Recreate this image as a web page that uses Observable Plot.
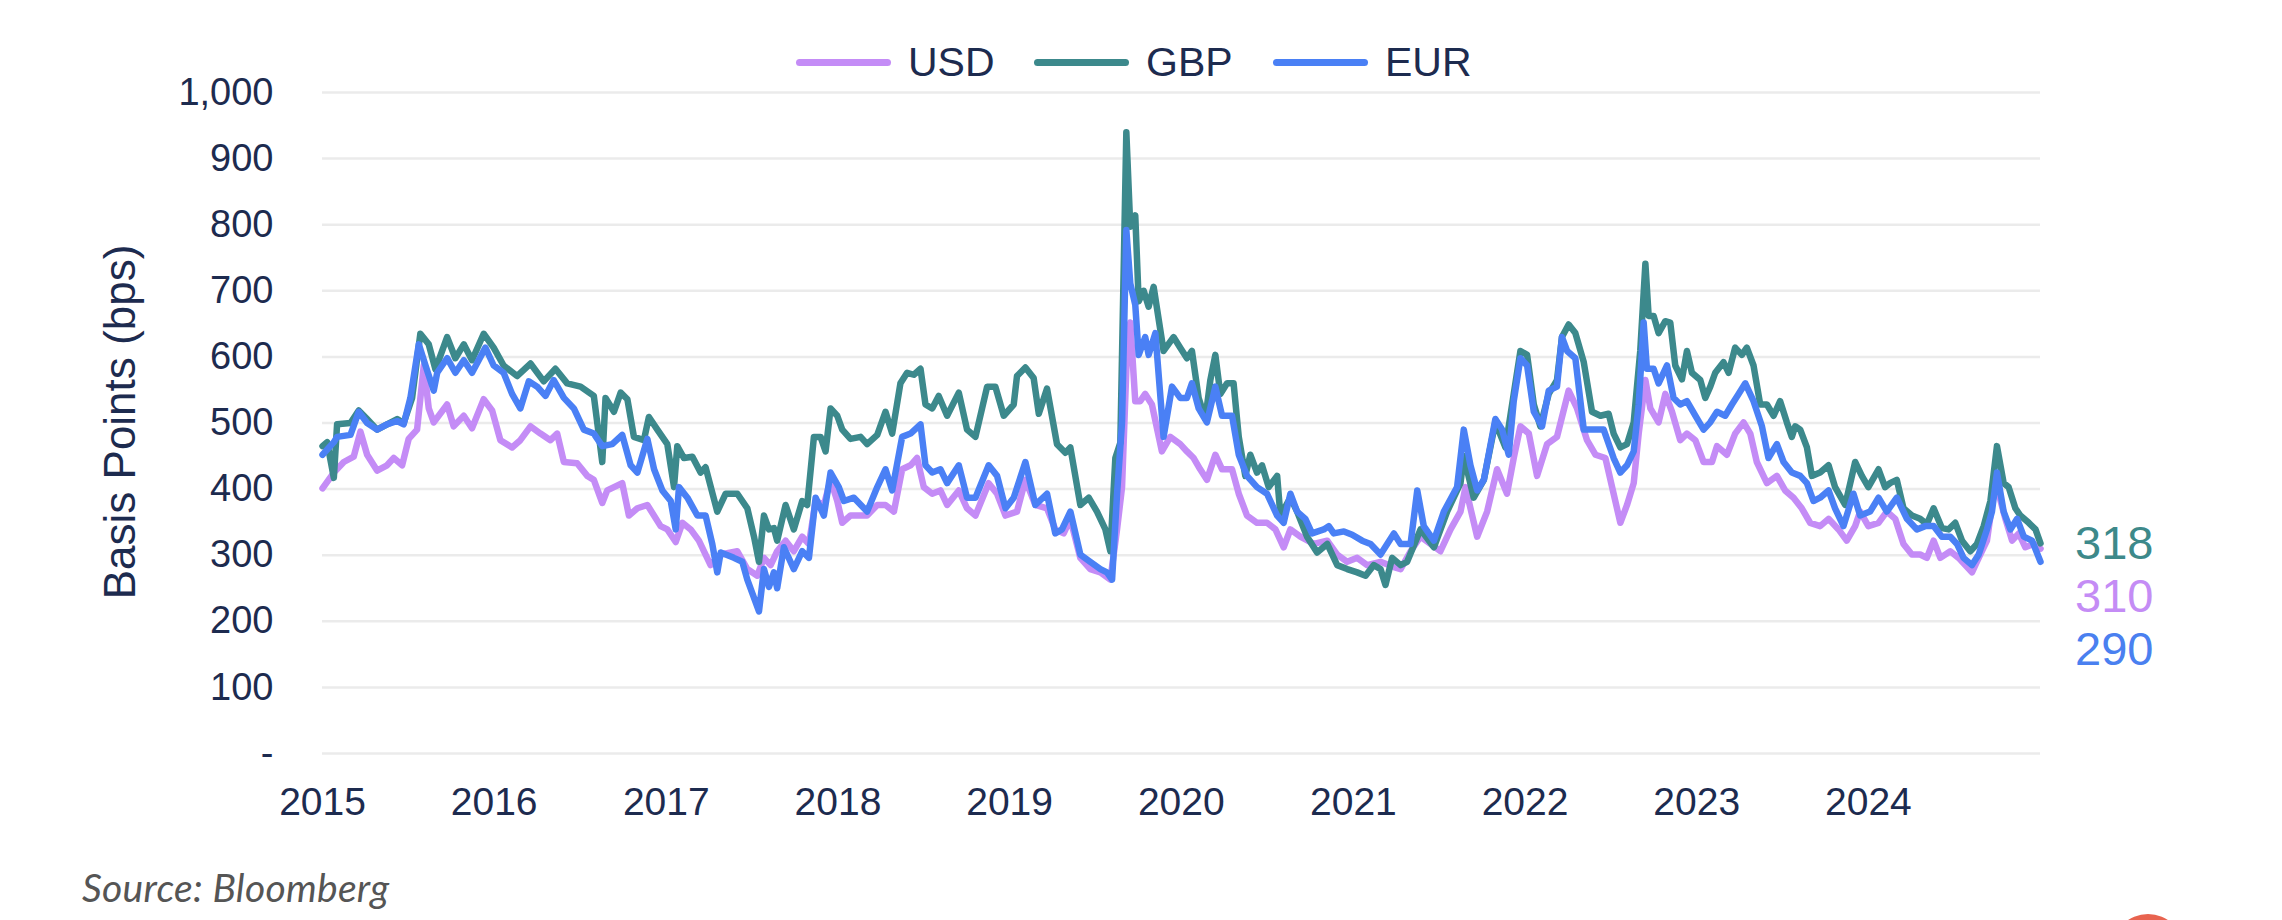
<!DOCTYPE html>
<html>
<head>
<meta charset="utf-8">
<script src="https://cdn.jsdelivr.net/npm/d3@7"></script>
<script src="https://cdn.jsdelivr.net/npm/@observablehq/plot@0.6"></script>
<style>
  body { margin: 0; background: #fff; }
  #wrap { position: relative; width: 2282px; height: 920px; overflow: hidden; background: #fff; font-family: "Liberation Sans", Arial, sans-serif; color: #1d2b4f; }
  #chart { position: absolute; left: 0; top: 0; }
  #overlay { position: absolute; left: 0; top: 0; pointer-events: none; }
  .legend { position: absolute; top: 38px; left: 0; height: 48px; }
  .lg-item { position: absolute; top: 0; height: 48px; display: flex; align-items: center; font-size: 41px; color: #1d2b4f; }
  .lg-sw { width: 95px; height: 7px; border-radius: 4px; margin-right: 17px; }
  #ylab { position: absolute; left: 120px; top: 422px; transform: translate(-50%, -50%) rotate(-90deg); font-size: 44px; white-space: nowrap; color: #1d2b4f; }
  #source { position: absolute; left: 82px; top: 864px; font-family: Lato, "Open Sans", sans-serif; font-style: italic; font-size: 39px; letter-spacing: 0.3px; color: #555; }
  #logo { position: absolute; left: 2112px; top: 914px; width: 72px; height: 72px; border-radius: 50%; background: #e8634f; }
</style>
</head>
<body>
<div id="wrap">
  <div id="chart"></div>
  <div class="legend" id="legend"></div>
  <div id="ylab">Basis Points (bps)</div>
  <div id="source">Source: Bloomberg</div>
  <div id="logo"></div>
</div>
<script>
// ---------- DATA (decimal year, basis points) ----------
const seriesNames = ["USD", "GBP", "EUR"];
const seriesColors = ["#c48cf6", "#3c898c", "#4a80f5"];
const endValues = [["GBP", 318], ["USD", 310], ["EUR", 290]];
const yTicks = [0, 100, 200, 300, 400, 500, 600, 700, 800, 900, 1000];
const xTickYears = [2015, 2016, 2017, 2018, 2019, 2020, 2021, 2022, 2023, 2024];

const USD = [
[2015.0,401],[2015.066,425],[2015.124,441],[2015.182,449],[2015.221,487],[2015.26,452],[2015.318,428],[2015.376,436],[2015.415,447],[2015.464,436],[2015.502,476],[2015.551,490],[2015.59,587],[2015.619,522],[2015.648,501],[2015.726,528],[2015.764,495],[2015.823,511],[2015.871,492],[2015.939,536],[2015.988,519],
[2016.036,474],[2016.104,463],[2016.152,474],[2016.211,495],[2016.269,484],[2016.327,474],[2016.366,484],[2016.405,441],[2016.482,439],[2016.541,420],[2016.579,414],[2016.628,379],[2016.657,398],[2016.744,409],[2016.783,360],[2016.832,371],[2016.89,376],[2016.967,344],
[2017.006,339],[2017.055,320],[2017.094,349],[2017.142,339],[2017.19,322],[2017.258,285],[2017.317,301],[2017.414,306],[2017.472,279],[2017.53,269],[2017.569,296],[2017.608,285],[2017.646,306],[2017.695,322],[2017.743,306],[2017.792,328],[2017.831,317],[2017.87,382],[2017.918,376],[2017.957,414],[2017.996,382],
[2018.025,349],[2018.073,360],[2018.17,360],[2018.229,376],[2018.277,376],[2018.326,366],[2018.374,430],[2018.423,436],[2018.461,447],[2018.5,403],[2018.549,393],[2018.597,398],[2018.636,376],[2018.704,398],[2018.752,371],[2018.801,360],[2018.878,409],[2018.927,393],[2018.976,360],
[2019.043,366],[2019.092,414],[2019.15,376],[2019.218,371],[2019.266,339],[2019.315,333],[2019.354,355],[2019.412,296],[2019.47,279],[2019.529,274],[2019.587,263],[2019.626,339],[2019.655,403],[2019.684,609],[2019.703,652],[2019.732,533],[2019.761,533],[2019.79,544],[2019.829,528],[2019.887,457],[2019.936,479],[2019.994,468],
[2020.033,457],[2020.072,447],[2020.11,430],[2020.149,414],[2020.198,452],[2020.237,430],[2020.295,430],[2020.334,393],[2020.382,360],[2020.44,349],[2020.498,349],[2020.547,339],[2020.595,312],[2020.634,339],[2020.692,328],[2020.77,317],[2020.848,322],[2020.906,301],[2020.964,290],
[2021.022,296],[2021.08,285],[2021.158,290],[2021.236,282],[2021.275,279],[2021.333,306],[2021.391,328],[2021.449,317],[2021.507,306],[2021.566,339],[2021.624,366],[2021.653,403],[2021.721,328],[2021.779,366],[2021.837,430],[2021.895,393],[2021.934,447],[2021.973,495],
[2022.022,484],[2022.07,420],[2022.128,468],[2022.186,479],[2022.254,549],[2022.303,522],[2022.361,474],[2022.41,452],[2022.468,447],[2022.516,393],[2022.555,349],[2022.594,376],[2022.633,409],[2022.662,484],[2022.701,565],[2022.73,522],[2022.778,501],[2022.817,544],[2022.856,517],[2022.904,474],[2022.943,484],[2022.992,474],
[2023.04,441],[2023.089,441],[2023.118,465],[2023.176,452],[2023.224,484],[2023.273,501],[2023.312,484],[2023.35,441],[2023.409,409],[2023.467,420],[2023.515,398],[2023.564,387],[2023.612,371],[2023.661,349],[2023.719,344],[2023.768,355],[2023.826,339],[2023.874,322],[2023.923,344],[2023.952,366],
[2024.0,344],[2024.059,349],[2024.107,366],[2024.156,355],[2024.204,317],[2024.253,301],[2024.301,301],[2024.34,296],[2024.379,322],[2024.418,296],[2024.476,306],[2024.524,296],[2024.563,285],[2024.602,274],[2024.641,296],[2024.689,322],[2024.728,393],[2024.757,393],[2024.796,355],[2024.835,322],[2024.874,333],[2024.912,312],[2024.961,317],[2025.0,310]
];

const GBP = [
[2015.0,465],[2015.027,471],[2015.066,417],[2015.085,498],[2015.163,500],[2015.211,519],[2015.26,506],[2015.318,490],[2015.376,498],[2015.435,506],[2015.473,500],[2015.522,538],[2015.57,635],[2015.619,619],[2015.658,581],[2015.726,630],[2015.774,598],[2015.823,619],[2015.871,595],[2015.939,635],[2015.997,614],
[2016.055,587],[2016.133,571],[2016.211,590],[2016.288,563],[2016.356,582],[2016.424,560],[2016.502,555],[2016.579,541],[2016.628,441],[2016.647,538],[2016.696,517],[2016.735,546],[2016.774,536],[2016.812,479],[2016.87,474],[2016.899,509],[2016.948,490],
[2017.006,468],[2017.045,403],[2017.064,465],[2017.103,447],[2017.152,449],[2017.2,425],[2017.229,433],[2017.297,366],[2017.346,393],[2017.414,393],[2017.472,371],[2017.511,328],[2017.54,290],[2017.569,360],[2017.598,339],[2017.627,341],[2017.646,322],[2017.695,376],[2017.743,339],[2017.792,382],[2017.821,376],[2017.86,479],[2017.899,479],[2017.928,457],[2017.957,522],[2017.996,511],
[2018.025,490],[2018.073,476],[2018.132,479],[2018.17,468],[2018.229,482],[2018.277,517],[2018.316,484],[2018.364,560],[2018.403,576],[2018.442,573],[2018.481,582],[2018.51,528],[2018.549,522],[2018.587,541],[2018.636,511],[2018.704,546],[2018.752,490],[2018.801,479],[2018.869,555],[2018.917,555],[2018.966,511],
[2019.024,528],[2019.043,571],[2019.092,584],[2019.14,568],[2019.17,514],[2019.218,552],[2019.276,468],[2019.325,455],[2019.354,463],[2019.412,376],[2019.461,387],[2019.509,366],[2019.558,339],[2019.587,306],[2019.616,447],[2019.645,470],[2019.68,940],[2019.703,797],[2019.732,814],[2019.752,684],[2019.781,700],[2019.81,676],[2019.839,706],[2019.897,609],[2019.955,630],[2019.994,614],
[2020.033,598],[2020.062,609],[2020.101,538],[2020.14,506],[2020.169,565],[2020.198,603],[2020.227,544],[2020.266,560],[2020.304,560],[2020.334,479],[2020.372,420],[2020.401,452],[2020.44,425],[2020.469,436],[2020.508,403],[2020.557,420],[2020.576,360],[2020.634,387],[2020.673,366],[2020.731,328],[2020.789,304],[2020.848,317],[2020.906,285],[2020.964,279],
[2021.022,274],[2021.071,269],[2021.119,285],[2021.158,279],[2021.187,255],[2021.226,296],[2021.275,285],[2021.313,290],[2021.391,339],[2021.469,312],[2021.546,366],[2021.624,409],[2021.643,450],[2021.701,387],[2021.76,414],[2021.827,501],[2021.886,463],[2021.934,544],[2021.973,609],
[2022.012,603],[2022.051,528],[2022.089,495],[2022.138,544],[2022.186,565],[2022.215,630],[2022.254,649],[2022.293,636],[2022.342,592],[2022.39,517],[2022.439,511],[2022.487,514],[2022.516,484],[2022.555,463],[2022.594,468],[2022.633,501],[2022.671,609],[2022.701,741],[2022.72,662],[2022.749,662],[2022.778,636],[2022.817,654],[2022.846,652],[2022.875,587],[2022.914,566],[2022.943,609],[2022.972,576],
[2023.021,565],[2023.05,538],[2023.079,555],[2023.108,576],[2023.156,592],[2023.186,576],[2023.224,614],[2023.263,603],[2023.292,614],[2023.331,587],[2023.37,528],[2023.409,528],[2023.448,511],[2023.486,533],[2023.525,501],[2023.554,479],[2023.574,495],[2023.603,490],[2023.642,463],[2023.671,420],[2023.719,425],[2023.768,436],[2023.806,403],[2023.865,376],[2023.923,441],[2023.962,420],
[2024.0,403],[2024.059,430],[2024.097,403],[2024.126,409],[2024.165,414],[2024.204,371],[2024.253,360],[2024.301,355],[2024.34,347],[2024.379,371],[2024.427,341],[2024.466,339],[2024.505,349],[2024.544,322],[2024.592,306],[2024.631,317],[2024.67,344],[2024.709,382],[2024.747,465],[2024.786,409],[2024.815,403],[2024.854,371],[2024.883,360],[2024.932,349],[2024.971,339],[2025.0,318]
];

const EUR = [
[2015.0,452],[2015.066,471],[2015.085,479],[2015.163,482],[2015.211,517],[2015.26,500],[2015.318,490],[2015.376,498],[2015.435,503],[2015.473,498],[2015.512,538],[2015.561,619],[2015.6,587],[2015.648,549],[2015.668,576],[2015.726,598],[2015.774,576],[2015.823,595],[2015.871,576],[2015.949,614],[2015.997,587],
[2016.055,576],[2016.104,544],[2016.152,522],[2016.201,563],[2016.25,555],[2016.298,541],[2016.346,565],[2016.405,538],[2016.463,522],[2016.521,490],[2016.579,484],[2016.628,465],[2016.686,468],[2016.744,482],[2016.793,436],[2016.832,425],[2016.89,476],[2016.929,430],[2016.977,398],
[2017.026,382],[2017.055,339],[2017.074,403],[2017.123,387],[2017.181,360],[2017.229,360],[2017.268,317],[2017.297,274],[2017.317,304],[2017.394,296],[2017.443,290],[2017.472,263],[2017.54,215],[2017.569,279],[2017.598,252],[2017.627,274],[2017.646,250],[2017.685,312],[2017.743,279],[2017.792,306],[2017.831,296],[2017.87,387],[2017.918,360],[2017.957,425],
[2018.005,403],[2018.035,382],[2018.093,387],[2018.17,366],[2018.229,403],[2018.277,430],[2018.316,398],[2018.374,479],[2018.423,484],[2018.481,498],[2018.51,436],[2018.549,425],[2018.597,430],[2018.636,409],[2018.704,436],[2018.752,387],[2018.801,387],[2018.878,436],[2018.927,420],[2018.976,371],
[2019.024,387],[2019.092,441],[2019.15,376],[2019.218,393],[2019.266,333],[2019.305,339],[2019.354,366],[2019.412,301],[2019.47,290],[2019.529,279],[2019.567,274],[2019.597,263],[2019.626,393],[2019.655,501],[2019.68,792],[2019.703,711],[2019.732,679],[2019.752,603],[2019.79,630],[2019.81,603],[2019.849,636],[2019.897,479],[2019.946,555],[2019.994,538],
[2020.033,538],[2020.062,560],[2020.101,522],[2020.149,501],[2020.198,555],[2020.237,511],[2020.295,511],[2020.334,452],[2020.382,420],[2020.44,403],[2020.498,393],[2020.557,360],[2020.595,349],[2020.634,393],[2020.673,366],[2020.721,355],[2020.76,333],[2020.828,339],[2020.857,344],[2020.886,333],[2020.945,336],[2020.993,331],
[2021.051,322],[2021.1,317],[2021.158,301],[2021.197,317],[2021.236,333],[2021.275,317],[2021.333,317],[2021.372,398],[2021.41,344],[2021.469,322],[2021.527,366],[2021.604,403],[2021.643,490],[2021.682,436],[2021.721,398],[2021.76,414],[2021.827,506],[2021.866,490],[2021.905,452],[2021.934,533],[2021.973,598],
[2022.012,587],[2022.051,517],[2022.099,495],[2022.138,549],[2022.186,555],[2022.215,630],[2022.245,609],[2022.293,598],[2022.342,490],[2022.4,490],[2022.458,490],[2022.516,447],[2022.555,425],[2022.594,436],[2022.633,457],[2022.662,528],[2022.691,652],[2022.71,582],[2022.749,582],[2022.778,560],[2022.827,587],[2022.865,538],[2022.904,528],[2022.943,533],[2022.992,511],
[2023.04,490],[2023.079,501],[2023.118,517],[2023.166,511],[2023.205,528],[2023.244,544],[2023.283,560],[2023.331,533],[2023.38,495],[2023.418,447],[2023.467,468],[2023.506,441],[2023.554,425],[2023.603,420],[2023.642,409],[2023.68,382],[2023.719,387],[2023.768,398],[2023.806,371],[2023.855,344],[2023.913,393],[2023.952,360],
[2024.01,366],[2024.059,387],[2024.107,366],[2024.165,387],[2024.224,355],[2024.282,339],[2024.33,344],[2024.379,344],[2024.427,328],[2024.476,328],[2024.515,317],[2024.553,296],[2024.602,285],[2024.641,301],[2024.689,339],[2024.718,366],[2024.747,425],[2024.786,366],[2024.825,339],[2024.864,355],[2024.903,328],[2024.951,322],[2025.0,290]
];

// ---------- BUILD ----------
function yearToDate(y) {
  const yr = Math.floor(y);
  const s = Date.UTC(yr, 0, 1), e = Date.UTC(yr + 1, 0, 1);
  return new Date(s + (y - yr) * (e - s));
}
const raw = {USD, GBP, EUR};
const rows = [];
for (const name of seriesNames) {
  for (const [y, v] of raw[name]) rows.push({series: name, date: yearToDate(y), value: v});
}
const colorOf = Object.fromEntries(seriesNames.map((n, i) => [n, seriesColors[i]]));
const xTicks = xTickYears.map(y => new Date(Date.UTC(y, 0, 1)));

const W = 2282, H = 920;
const chart = Plot.plot({
  width: W,
  height: H,
  marginLeft: 322,
  marginRight: 242,
  marginTop: 92,
  marginBottom: 167,
  style: {fontFamily: '"Liberation Sans", Arial, sans-serif', color: "#1d2b4f", background: "transparent", overflow: "visible"},
  x: {type: "utc", domain: [new Date(Date.UTC(2015, 0, 1)), new Date(Date.UTC(2025, 0, 1))]},
  y: {domain: [0, 1000]},
  color: {domain: seriesNames, range: seriesColors},
  marks: [
    Plot.ruleY(yTicks, {stroke: "#ebebeb", strokeWidth: 2.5}),
    Plot.axisY({ticks: yTicks, tickSize: 0, tickPadding: 49, fontSize: 38, label: null,
      tickFormat: d => d === 0 ? "-" : d3.format(",")(d)}),
    Plot.axisX({ticks: xTicks, tickSize: 0, tickPadding: 34, fontSize: 39, label: null,
      tickFormat: d3.utcFormat("%Y")}),
    Plot.line(rows, {x: "date", y: "value", z: "series", stroke: "series",
      strokeWidth: 6.5, strokeLinejoin: "round", strokeLinecap: "round", curve: "linear"})
  ]
});
document.getElementById("chart").appendChild(chart);

// legend
const legend = document.getElementById("legend");
const legendX = [796, 1034, 1273];
seriesNames.forEach((n, i) => {
  const it = document.createElement("div");
  it.className = "lg-item";
  it.style.left = legendX[i] + "px";
  const sw = document.createElement("div");
  sw.className = "lg-sw";
  sw.style.background = colorOf[n];
  const tx = document.createElement("span");
  tx.textContent = n;
  it.appendChild(sw); it.appendChild(tx);
  legend.appendChild(it);
});

// end labels (stacked to the right of the plot)
const endColors = {GBP: "#3d898a", USD: "#c48cf5", EUR: "#4a80f0"};
const endBaselines = [559, 612, 665];
const ov = d3.select("#wrap").append("svg")
  .attr("id", "overlay").attr("width", W).attr("height", H);
ov.selectAll("text").data(endValues).join("text")
  .attr("x", 2075)
  .attr("y", (d, i) => endBaselines[i])
  .attr("fill", d => endColors[d[0]])
  .style("font-family", '"Liberation Sans", Arial, sans-serif')
  .style("font-size", "47px")
  .text(d => d[1]);
</script>
</body>
</html>
